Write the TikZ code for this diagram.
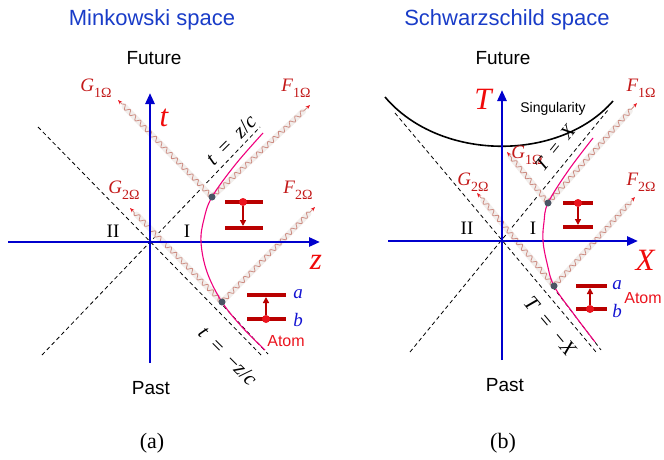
\documentclass[tikz,border=0pt]{standalone}
\usepackage{fontspec}
\setmainfont{Liberation Serif}
\setsansfont{Liberation Sans}
\usetikzlibrary{arrows.meta,decorations.pathmorphing,calc}

\definecolor{axisblue}{RGB}{0,0,205}
\definecolor{titleblue}{RGB}{25,60,200}
\definecolor{lblred}{RGB}{195,25,25}
\definecolor{bigred}{RGB}{240,10,10}
\definecolor{hypcol}{RGB}{240,0,125}
\definecolor{photoncol}{RGB}{205,140,130}
\definecolor{glowcol}{RGB}{242,238,236}
\definecolor{barcol}{RGB}{185,0,0}
\definecolor{dotred}{RGB}{235,20,30}
\definecolor{eventcol}{RGB}{75,85,100}
\definecolor{atomblue}{RGB}{20,20,210}

\newcommand{\fsz}[1]{\fontsize{#1}{#1}\selectfont}
\newcommand{\modesub}[2]{\itshape #1\raisebox{-0.3em}{\upshape\fsz{14}#2}}

\begin{document}
\begin{tikzpicture}[x=1pt,y=-1pt,
  axisline/.style={draw=axisblue, line width=2.6pt, -{Triangle[length=11pt,width=9pt]}},
  cone/.style={draw=black, line width=0.8pt, dash pattern=on 4pt off 3pt},
  hyp/.style={draw=hypcol, line width=1.1pt},
  sing/.style={draw=black, line width=1.6pt},
  glow/.style={draw=glowcol, line width=6pt, line cap=round},
  photon/.style={draw=photoncol, line width=0.8pt, decorate,
     decoration={snake, amplitude=2.2pt, segment length=7.5pt, pre length=1pt, post length=5pt},
     -{Stealth[length=4.5pt,width=3.5pt,color=dotred]}},
  event/.style={circle, fill=eventcol, inner sep=0pt, minimum size=7pt},
  bar/.style={draw=barcol, line width=4pt},
  lvldot/.style={circle, fill=dotred, inner sep=0pt, minimum size=8pt},
  trans/.style={draw=barcol, line width=2pt, -{Triangle[length=6pt,width=6pt]}},
  title/.style={font=\sffamily\fsz{22}, text=titleblue},
  timelbl/.style={font=\sffamily\fsz{19}},
  caption/.style={font=\fsz{22}},
  modelbl/.style={font=\fsz{19}, text=lblred},
  biglbl/.style={font=\itshape\fsz{31}, text=bigred},
  region/.style={font=\fsz{19}},
  conelbl/.style={font=\fsz{21}, inner sep=1pt},
  levellbl/.style={font=\itshape\fsz{19}, text=atomblue},
  atomlbl/.style={font=\sffamily\fsz{16}, text=dotred},
  singlbl/.style={font=\sffamily\fsz{14}}
]
\useasboundingbox (0,0) rectangle (664,460);

%%%%%%%%%%%%%%%% (a) Minkowski %%%%%%%%%%%%%%%%
\coordinate (Oa) at (150,242);
\coordinate (ca1) at (38,127);
\coordinate (ca2) at (263,357);
\coordinate (ca3) at (42,355);
\coordinate (ca4) at (260,127);
\coordinate (ca5) at (190,270);
\coordinate (ca6) at (268,354);
\draw[cone] (ca1) -- (ca2);
\draw[cone] (ca3) -- (ca4);
\draw[cone] (ca5) -- (ca6);

\coordinate (e1) at (212,197);
\coordinate (e2) at (222,302);
\coordinate (g1a) at (118,100);
\coordinate (f1a) at (310,105);
\coordinate (g2a) at (130,208);
\coordinate (f2a) at (315,207);
\foreach \s/\t in {e1/g1a, e1/f1a, e2/g2a, e2/f2a}{
  \draw[glow] (\s) -- ($(\s)!0.93!(\t)$);
}
\foreach \s/\t in {e1/g1a, e1/f1a, e2/g2a, e2/f2a}{
  \draw[photon] (\s) -- (\t);
}

\draw[axisline] (150,363) -- (150,93);
\draw[axisline] (8,242) -- (320,242);

\draw[hyp] plot[smooth, tension=0.6] coordinates {(263,133) (235,165) (212,197) (204,219) (201,242) (207,272) (222,302) (242,327) (265,350)};

\node[event] (E1) at (e1) {};
\node[event] (E2) at (e2) {};

% atoms (a)
\draw[bar] (225,202) -- (263,202);
\draw[bar] (225,228) -- (263,228);
\node[lvldot] (da1) at (243,202) {};
\coordinate (ta1) at (243,226);
\draw[trans] (da1) -- (ta1);

\draw[bar] (247,295) -- (286,295);
\draw[bar] (247,319) -- (286,319);
\node[lvldot] (da2) at (266,319) {};
\coordinate (ta2) at (266,297);
\draw[trans] (da2) -- (ta2);

\node[levellbl] (la) at (298,294) {a};
\node[levellbl] (lb) at (298,320) {b};
\node[atomlbl] (atoma) at (286,341) {Atom};

\node[title] (tta) at (152,20) {Minkowski space};
\node[timelbl] (fua) at (154,58) {Future};
\node[timelbl] (paa) at (151,388) {Past};
\node[caption] (cpa) at (152,443) {(a)};
\node[modelbl] (G1a) at (96,88) {\modesub{G}{1Ω}};
\node[modelbl] (F1a) at (296,88) {\modesub{F}{1Ω}};
\node[modelbl] (G2a) at (124,190) {\modesub{G}{2Ω}};
\node[modelbl] (F2a) at (298,190) {\modesub{F}{2Ω}};
\node[biglbl] (ta) at (164,118) {t};
\node[biglbl] (za) at (316,262) {z};
\node[region] (IIa) at (113,231) {II};
\node[region] (Ia) at (187,231) {I};
\node[conelbl, rotate=45] (cla) at (231,140) {\itshape t\enspace\upshape =\enspace\itshape z\upshape /\itshape c};
\node[conelbl, rotate=-45] (clb) at (228,356) {\itshape t\enspace\upshape =\enspace−\itshape z\upshape /\itshape c};

%%%%%%%%%%%%%%%% (b) Schwarzschild %%%%%%%%%%%%%%%%
\coordinate (Ob) at (502,241);
\coordinate (cb1) at (395,113);
\coordinate (cb2) at (596,352);
\coordinate (cb3) at (410,352);
\coordinate (cb4) at (608,110);
\coordinate (cb5) at (540,270);
\coordinate (cb6) at (601,350);
\draw[cone] (cb1) -- (cb2);
\draw[cone] (cb3) -- (cb4);
\draw[cone] (cb5) -- (cb6);

\coordinate (s1) at (385,97);
\coordinate (s2) at (613,101);
\draw[sing] (s1) .. controls (440,162) and (560,162) .. (s2);

\coordinate (e3) at (548,203);
\coordinate (e4) at (554,286);
\coordinate (g1b) at (507,152);
\coordinate (f1b) at (637,103);
\coordinate (g2b) at (477,193);
\coordinate (f2b) at (635,197);
\foreach \s/\t in {e3/g1b, e3/f1b, e4/g2b, e4/f2b}{
  \draw[glow] (\s) -- ($(\s)!0.92!(\t)$);
}
\foreach \s/\t in {e3/g1b, e3/f1b, e4/g2b, e4/f2b}{
  \draw[photon] (\s) -- (\t);
}

\draw[axisline] (502,360) -- (502,90);
\draw[axisline] (388,241) -- (638,241);

\draw[hyp] plot[smooth, tension=0.6] coordinates {(593,138) (568,171) (548,203) (544,222) (543,241) (547,263) (554,286) (573,313) (595,342)};

\node[event] (E3) at (e3) {};
\node[event] (E4) at (e4) {};

% atoms (b)
\draw[bar] (563,203) -- (593,203);
\draw[bar] (563,227) -- (593,227);
\node[lvldot] (db1) at (578,203) {};
\coordinate (tb1) at (578,225);
\draw[trans] (db1) -- (tb1);

\draw[bar] (576,286) -- (607,286);
\draw[bar] (576,309) -- (607,309);
\node[lvldot] (db2) at (590,309) {};
\coordinate (tb2) at (590,288);
\draw[trans] (db2) -- (tb2);

\node[levellbl] (lab) at (617,285) {a};
\node[levellbl] (lbb) at (617,311) {b};
\node[atomlbl] (atomb) at (643,298) {Atom};

\node[title] (ttb) at (507,20) {Schwarzschild space};
\node[timelbl] (fub) at (503,58) {Future};
\node[timelbl] (pab) at (505,385) {Past};
\node[caption] (cpb) at (503,443) {(b)};
\node[singlbl] (sgl) at (553,109) {Singularity};
\node[modelbl] (G1b) at (527,155) {\modesub{G}{1Ω}};
\node[modelbl] (F1b) at (641,88) {\modesub{F}{1Ω}};
\node[modelbl] (G2b) at (473,182) {\modesub{G}{2Ω}};
\node[modelbl] (F2b) at (641,182) {\modesub{F}{2Ω}};
\node[biglbl] (Tb) at (483,99) {T};
\node[biglbl] (Xb) at (645,260) {X};
\node[region] (IIb) at (467,228) {II};
\node[region] (Ib) at (533,228) {I};
\node[conelbl, font=\fsz{19}, rotate=51] (clc) at (555,148) {\itshape T\enspace\upshape =\enspace\itshape X};
\node[conelbl, rotate=-50] (cld) at (550,326) {\itshape T\enspace\upshape =\enspace−\itshape X};
\end{tikzpicture}
\end{document}
